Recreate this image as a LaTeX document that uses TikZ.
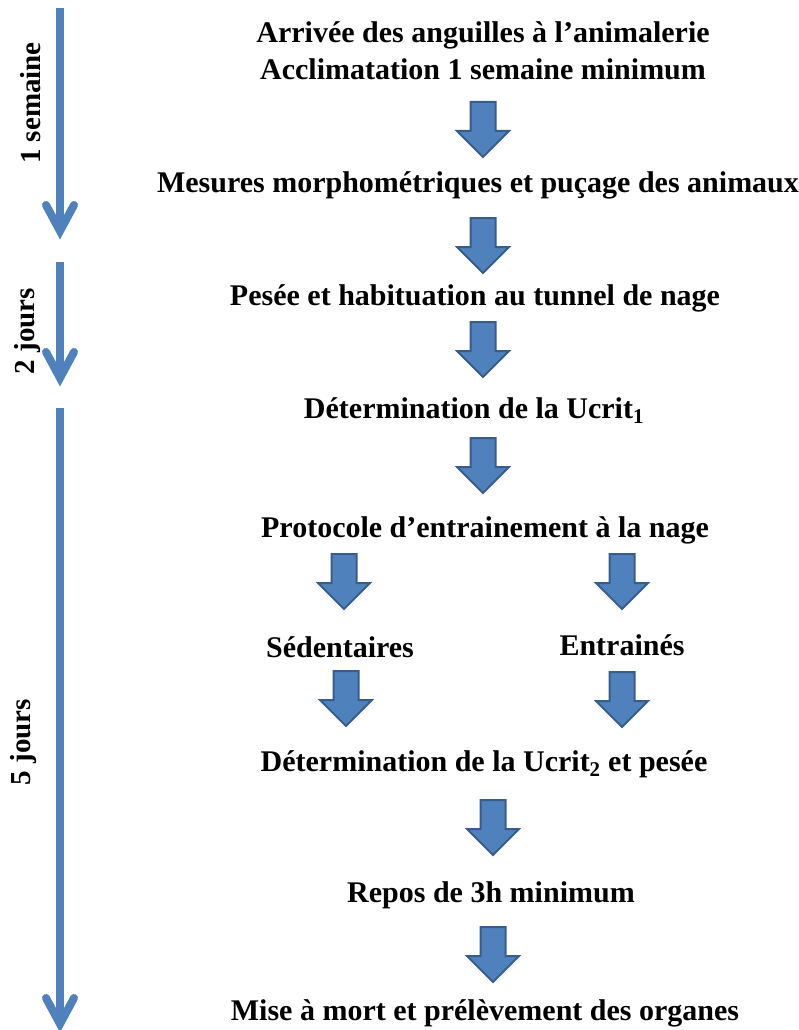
\documentclass[tikz,border=0pt]{standalone}
\usepackage{fontspec}
\setmainfont{Liberation Serif}
\definecolor{arrowblue}{HTML}{4F81BD}
\definecolor{arrowedge}{HTML}{385D8A}
\begin{document}
\begin{tikzpicture}[x=1pt,y=-1pt,
  txt/.style={font=\fontsize{30}{36}\selectfont\bfseries, inner sep=0pt, anchor=base},
  sidelabel/.style={font=\fontsize{29}{35}\selectfont\bfseries, inner sep=0pt, anchor=base, rotate=90},
  sideline/.style={draw=arrowblue, line width=8pt},
  sidehead/.style={draw=arrowblue, line width=8pt, line cap=round, line join=miter},
  blockarrow/.pic={\draw[draw=arrowedge, fill=arrowblue, line width=2pt, line join=miter]
     (-12.5,0) -- (12.5,0) -- (12.5,29) -- (26,29) -- (0,55) -- (-26,29) -- (-12.5,29) -- cycle;}
]
\useasboundingbox (0,0) rectangle (798,1030);

% main texts
\node[txt] (arrivee) at (483,43) {Arrivée des anguilles à l’animalerie};
\node[txt] (acclim) at (483,80) {Acclimatation 1 semaine minimum};
\node[txt] (mesures) at (478,192) {Mesures morphométriques et puçage des animaux};
\node[txt] (pesee) at (475,305) {Pesée et habituation au tunnel de nage};
\node[txt] (ucrit1) at (474,418) {Détermination de la Ucrit\textsubscript{1}};
\node[txt] (protocole) at (485,537) {Protocole d’entrainement à la nage};
\node[txt] (sedent) at (340,657) {Sédentaires};
\node[txt] (entraines) at (622,655) {Entrainés};
\node[txt] (ucrit2) at (484,771) {Détermination de la Ucrit\textsubscript{2} et pesée};
\node[txt] (repos) at (491,902) {Repos de 3h minimum};
\node[txt] (mise) at (485,1020) {Mise à mort et prélèvement des organes};

% block arrows
\pic at (483,102) {blockarrow};
\pic at (483,218) {blockarrow};
\pic at (483,322) {blockarrow};
\pic at (483,438) {blockarrow};
\pic at (344,554) {blockarrow};
\pic at (622,554) {blockarrow};
\pic at (346,671) {blockarrow};
\pic at (622,672) {blockarrow};
\pic at (493,800) {blockarrow};
\pic at (493,927) {blockarrow};

% side time arrows
\coordinate (s1top) at (60,8);   \coordinate (s1tip) at (60,231);
\coordinate (s2top) at (60,262); \coordinate (s2tip) at (60,378);
\coordinate (s3top) at (60,408); \coordinate (s3tip) at (60,1024);
\foreach \a in {1,2,3}{
  \draw[sideline] (s\a top) -- (s\a tip);
  \draw[sidehead] (s\a tip) ++(-14,-26) -- (s\a tip) -- ++(14,-26);
}

\node[sidelabel] (sem) at (40,103) {1 semaine};
\node[sidelabel] (deux) at (34,331) {2 jours};
\node[sidelabel] (cinq) at (30,742) {5 jours};
\end{tikzpicture}
\end{document}
